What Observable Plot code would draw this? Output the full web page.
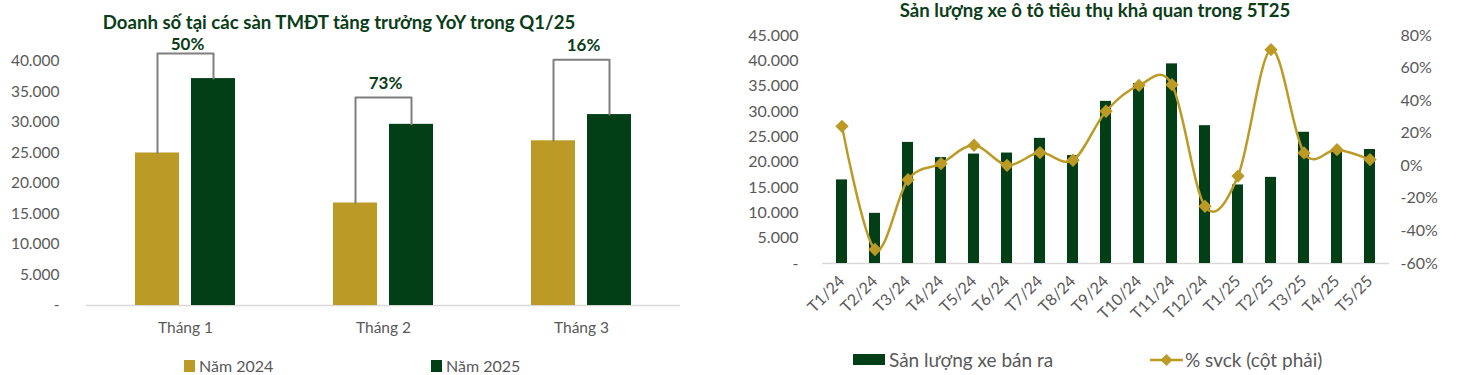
<!DOCTYPE html>
<html>
<head>
<meta charset="utf-8">
<script src="https://cdn.jsdelivr.net/npm/d3@7"></script>
<script src="https://cdn.jsdelivr.net/npm/@observablehq/plot@0.6"></script>
<style>
  body { margin: 0; background: #fff; font-family: Lato, sans-serif; }
  #wrap { position: relative; width: 1466px; height: 375px; overflow: hidden; background: #fff; }
  .chart { position: absolute; top: 0; }
  .title { position: absolute; font-weight: bold; color: #0b3d18; font-size: 18.6px; line-height: 18px; white-space: nowrap; transform: translateX(-50%); }
  .legend { position: absolute; display: flex; align-items: center; color: #595959; white-space: nowrap; }
  .sw { display: inline-block; }
</style>
</head>
<body>
<div id="wrap">
  <div id="leftChart" class="chart" style="left:0px"></div>
  <div id="rightChart" class="chart" style="left:700px"></div>
  <div class="title" id="tl" style="left:339px; top:13px"></div>
  <div class="title" id="tr" style="left:1095px; top:1px"></div>
  <div class="legend" id="legL1" style="left:184px; top:358px; font-size:16px; line-height:16px"></div>
  <div class="legend" id="legL2" style="left:431px; top:358px; font-size:16px; line-height:16px"></div>
  <div class="legend" id="legR1" style="left:853px; top:350px; font-size:19px; line-height:19px"></div>
  <div class="legend" id="legR2" style="left:1150px; top:350px; font-size:19px; line-height:19px"></div>
</div>
<script>
// ---------- Left chart data ----------
const leftTitle = "Doanh số tại các sàn TMĐT tăng trưởng YoY trong Q1/25";
const months = ["Tháng 1", "Tháng 2", "Tháng 3"];
const yearKeys = ["2024", "2025"];
const yearNames = ["Năm 2024", "Năm 2025"];
const sales2024 = [25000, 16800, 27000];
const sales2025 = [37200, 29700, 31300];
const growthLabels = ["50%", "73%", "16%"];
const bracketTop = [41300, 34100, 40300];
const growthLabelY = [42800, 36450, 42600];
const leftTicks = [0, 5000, 10000, 15000, 20000, 25000, 30000, 35000, 40000];

// ---------- Right chart data ----------
const rightTitle = "Sản lượng xe ô tô tiêu thụ khả quan trong 5T25";
const periods = ["T1/24", "T2/24", "T3/24", "T4/24", "T5/24", "T6/24", "T7/24", "T8/24", "T9/24",
                 "T10/24", "T11/24", "T12/24", "T1/25", "T2/25", "T3/25", "T4/25", "T5/25"];
const carSales = [16500, 9900, 23900, 20900, 21600, 21800, 24700, 21300, 32000,
                  35500, 39400, 27200, 15500, 17000, 25900, 22300, 22500];
const yoyPct = [24.2, -51.4, -8.5, 1.3, 12.6, 0.3, 8.1, 3.4, 33.5,
                49.4, 49.8, -24.9, -6.3, 71.3, 7.9, 9.9, 3.8];
const carTicks = [0, 5000, 10000, 15000, 20000, 25000, 30000, 35000, 40000, 45000];
const pctTicks = [-60, -40, -20, 0, 20, 40, 60, 80];
const seriesNames = ["Sản lượng xe bán ra", "% svck (cột phải)"];

// ---------- Styles ----------
const gold = "#BC9A26";
const green = "#023F16";
const labelGreen = "#0b3d18";
const gray = "#595959";

const fmtThousands = v => v === 0 ? "-" : d3.format(",")(v).replace(/,/g, ".");

// ---------- Left chart ----------
const barsL = months.flatMap((m, i) => [
  {m, yr: yearKeys[0], v: sales2024[i]},
  {m, yr: yearKeys[1], v: sales2025[i]}
]);
const brackets = months.flatMap((m, i) => [
  {m, yr: yearKeys[0], v: sales2024[i]},
  {m, yr: yearKeys[0], v: bracketTop[i]},
  {m, yr: yearKeys[1], v: bracketTop[i]},
  {m, yr: yearKeys[1], v: sales2025[i]}
]);
const growthRows = months.map((m, i) => ({m, y: growthLabelY[i], t: growthLabels[i]}));

const leftPlot = Plot.plot({
  width: 700, height: 340,
  marginLeft: 85, marginRight: 19, marginTop: 61, marginBottom: 35,
  style: {fontFamily: "Lato, sans-serif", fontSize: "15.5px", color: gray, background: "transparent", overflow: "visible"},
  fx: {domain: months, padding: 0, label: null, axis: "bottom", tickSize: 0, tickPadding: 16},
  x: {domain: yearKeys, paddingInner: 0.22, paddingOuter: 0.855, axis: null},
  y: {domain: [0, 40000], ticks: leftTicks, tickFormat: fmtThousands, tickSize: 0, tickPadding: 27, label: null},
  color: {domain: yearKeys, range: [gold, green]},
  marks: [
    Plot.ruleY([0], {stroke: "#d9d9d9", strokeWidth: 1.5}),
    Plot.barY(barsL, {fx: "m", x: "yr", y: "v", fill: "yr"}),
    Plot.line(brackets, {fx: "m", x: "yr", y: "v", z: "m", stroke: "#7f7f7f", strokeWidth: 2}),
    Plot.text(growthRows, {fx: "m", y: "y", text: "t", dx: 2, fill: labelGreen, fontWeight: "bold", fontSize: 17})
  ]
});
document.getElementById("leftChart").appendChild(leftPlot);

// ---------- Right chart ----------
const yMax = carTicks[carTicks.length - 1];
const pMin = pctTicks[0], pMax = pctTicks[pctTicks.length - 1];
const toY = p => (p - pMin) / (pMax - pMin) * yMax;
const fromY = v => v / yMax * (pMax - pMin) + pMin;

const rows = periods.map((p, i) => ({period: p, sales: carSales[i], yoy: yoyPct[i]}));

const rightPlot = Plot.plot({
  width: 766, height: 340,
  marginLeft: 122, marginRight: 77, marginTop: 35, marginBottom: 77,
  style: {fontFamily: "Lato, sans-serif", fontSize: "16px", color: gray, background: "transparent", overflow: "visible"},
  x: {domain: periods, paddingInner: 0.68, paddingOuter: 0.34},
  y: {domain: [0, yMax]},
  marks: [
    Plot.axisY({ticks: carTicks, tickFormat: fmtThousands, tickSize: 0, tickPadding: 24, label: null}),
    Plot.axisY({anchor: "right", ticks: pctTicks.map(toY), tickFormat: v => Math.round(fromY(v)) + "%", tickSize: 0, tickPadding: 11, label: null}),
    Plot.axisX({tickRotate: -45, tickSize: 0, tickPadding: 15, label: null, fontSize: 16}),
    Plot.ruleY([0], {stroke: "#d9d9d9", strokeWidth: 1.5}),
    Plot.barY(rows, {x: "period", y: "sales", fill: green}),
    Plot.line(rows, {x: "period", y: d => toY(d.yoy), stroke: gold, strokeWidth: 2.5, curve: "cardinal", tension: 0}),
    Plot.dot(rows, {x: "period", y: d => toY(d.yoy), symbol: "diamond2", r: 6, fill: gold})
  ]
});
document.getElementById("rightChart").appendChild(rightPlot);

// ---------- Titles & legends ----------
document.getElementById("tl").textContent = leftTitle;
document.getElementById("tr").textContent = rightTitle;

function sq(color, w, h, mr) {
  return `<span class="sw" style="width:${w}px;height:${h}px;background:${color};margin-right:${mr}px"></span>`;
}
document.getElementById("legL1").innerHTML = sq(gold, 11, 12, 4) + `<span>${yearNames[0]}</span>`;
document.getElementById("legL2").innerHTML = sq(green, 11, 12, 4) + `<span>${yearNames[1]}</span>`;
document.getElementById("legR1").innerHTML = sq(green, 32, 11, 4) + `<span>${seriesNames[0]}</span>`;
document.getElementById("legR2").innerHTML =
  `<svg width="33" height="14" style="margin-right:2px"><line x1="0" y1="7" x2="33" y2="7" stroke="${gold}" stroke-width="2.5"/>` +
  `<path d="M16.5,1 L22.5,7 L16.5,13 L10.5,7 Z" fill="${gold}"/></svg><span>${seriesNames[1]}</span>`;
</script>
</body>
</html>
